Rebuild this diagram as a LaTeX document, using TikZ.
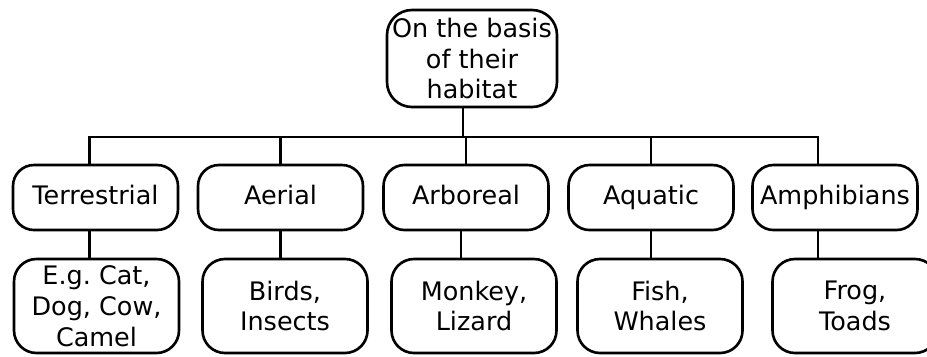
\documentclass[tikz,border=0pt]{standalone}
\usepackage{fontspec}
\setmainfont{DejaVu Sans}
\begin{document}
\begin{tikzpicture}[line width=1.5pt,
  rbox/.style={draw,rounded corners=.42cm,minimum width=3.3cm,inner sep=0pt,
    align=center,font=\fontsize{14.5}{17.6}\selectfont},
  kind/.style={rbox,minimum height=1.3cm,text height=1.8ex,text depth=.3ex},
  eg/.style={rbox,minimum height=1.88cm,rounded corners=.45cm}]
\useasboundingbox (0,0) rectangle (18.54,7.12);
\node[rbox,minimum width=3.4cm,minimum height=1.94cm,rounded corners=.5cm](top) at (9.44,5.95){On the basis\\of their\\habitat};
\node[kind](terr) at (1.91,3.17){Terrestrial};
\node[kind](aer) at (5.61,3.17){Aerial};
\node[kind](arb) at (9.32,3.17){Arboreal};
\node[kind](aqu) at (13.02,3.17){Aquatic};
\node[kind](amp) at (16.7,3.17){Amphibians};
\node[eg](terreg) at (1.93,1){E.g.\ Cat,\\Dog, Cow,\\Camel};
\node[eg](aereg) at (5.7,1){Birds,\\Insects};
\node[eg](arbeg) at (9.48,1){Monkey,\\Lizard};
\node[eg](aqueg) at (13.2,1){Fish,\\Whales};
\node[eg](ampeg) at (17.1,1){Frog,\\Toads};
% bus line
\coordinate (bus) at (9.26,4.38);
\draw (top.south -| bus) -- (bus);
\draw ([xshift=-.12cm]terr.north) |- (bus) -| ([xshift=-.34cm]amp.north);
\draw (aer.north) -- (aer.north |- bus);
\draw (arb.north) -- (arb.north |- bus);
\draw (aqu.north) -- (aqu.north |- bus);
% down to examples
\draw ([xshift=-.12cm]terr.south) coordinate (t1) -- (t1 |- terreg.north);
\draw (aer.south) -- (aer.south |- aereg.north);
\draw ([xshift=-.1cm]arb.south) coordinate (t3) -- (t3 |- arbeg.north);
\draw (aqu.south) -- (aqu.south |- aqueg.north);
\draw ([xshift=-.34cm]amp.south) coordinate (t5) -- (t5 |- ampeg.north);
\end{tikzpicture}
\end{document}
